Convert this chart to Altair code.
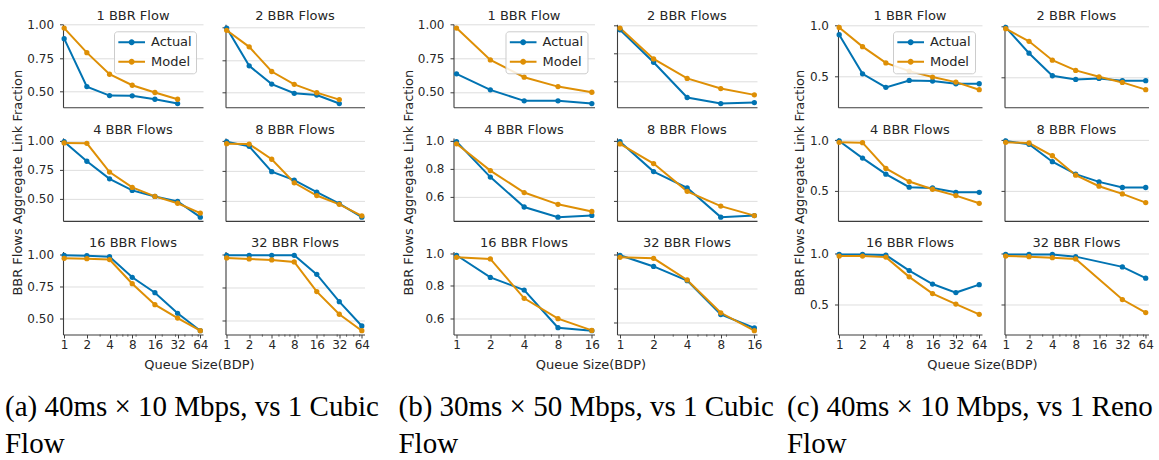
import altair as alt
import pandas as pd

# ---------------- data ----------------
QUEUE_A = [1, 2, 4, 8, 16, 32, 64]
QUEUE_B = [1, 2, 4, 8, 16]
MINOR_A = [3, 5, 6, 7, 9, 20, 30, 40, 50, 60]
MINOR_B = [3, 5, 6, 7, 9]
PANEL_TITLES = ["1 BBR Flow", "2 BBR Flows", "4 BBR Flows",
                "8 BBR Flows", "16 BBR Flows", "32 BBR Flows"]
SERIES = ["Actual", "Model"]
CAPTIONS = [
    ["(a) 40ms \u00d7 10 Mbps, vs 1 Cubic", "Flow"],
    ["(b) 30ms \u00d7 50 Mbps, vs 1 Cubic", "Flow"],
    ["(c) 40ms \u00d7 10 Mbps, vs 1 Reno", "Flow"],
]
Y_TITLE = "BBR Flows Aggregate Link Fraction"
X_TITLE = "Queue Size(BDP)"

A_ACTUAL = [
    [0.894, 0.537, 0.470, 0.468, 0.443, 0.411],
    [0.992, 0.704, 0.565, 0.495, 0.482, 0.417],
    [0.991, 0.822, 0.670, 0.570, 0.518, 0.474, 0.339],
    [0.992, 0.953, 0.743, 0.673, 0.573, 0.478, 0.366],
    [0.995, 0.992, 0.984, 0.821, 0.700, 0.537, 0.400],
    [0.997, 0.997, 0.997, 0.997, 0.851, 0.642, 0.456],
]
A_MODEL = [
    [0.973, 0.790, 0.629, 0.547, 0.493, 0.443],
    [0.975, 0.849, 0.661, 0.563, 0.500, 0.447],
    [0.980, 0.977, 0.728, 0.596, 0.518, 0.459, 0.374],
    [0.975, 0.972, 0.846, 0.651, 0.545, 0.472, 0.377],
    [0.971, 0.968, 0.961, 0.771, 0.605, 0.500, 0.400],
    [0.977, 0.969, 0.961, 0.946, 0.719, 0.546, 0.420],
]
B_ACTUAL = [
    [0.634, 0.515, 0.433, 0.433, 0.413],
    [0.969, 0.736, 0.484, 0.441, 0.448],
    [0.993, 0.741, 0.528, 0.456, 0.468],
    [0.993, 0.795, 0.687, 0.493, 0.503],
    [0.991, 0.853, 0.774, 0.540, 0.521],
    [0.996, 0.930, 0.846, 0.646, 0.566],
]
B_MODEL = [
    [0.975, 0.738, 0.609, 0.539, 0.497],
    [0.981, 0.760, 0.621, 0.548, 0.503],
    [0.978, 0.787, 0.631, 0.547, 0.496],
    [0.978, 0.848, 0.664, 0.566, 0.503],
    [0.978, 0.968, 0.723, 0.596, 0.523],
    [0.984, 0.978, 0.850, 0.656, 0.550],
]
C_ACTUAL = [
    [0.906, 0.526, 0.394, 0.461, 0.455, 0.429, 0.429],
    [0.993, 0.737, 0.513, 0.477, 0.487, 0.464, 0.464],
    [0.990, 0.821, 0.662, 0.533, 0.526, 0.483, 0.483],
    [0.990, 0.957, 0.785, 0.662, 0.586, 0.530, 0.530],
    [0.990, 0.990, 0.984, 0.831, 0.698, 0.614, 0.692],
    [0.990, 0.990, 0.990, 0.968, None, 0.867, 0.756],
]
C_MODEL = [
    [0.977, 0.790, 0.632, 0.552, 0.494, 0.445, 0.371],
    [0.980, 0.855, 0.668, 0.566, 0.503, 0.447, 0.375],
    [0.977, 0.974, 0.719, 0.589, 0.513, 0.450, 0.374],
    [0.977, 0.970, 0.844, 0.652, 0.543, 0.467, 0.381],
    [0.974, 0.974, 0.964, 0.769, 0.604, 0.500, 0.399],
    [0.974, 0.968, 0.958, 0.945, None, 0.545, 0.416],
]
TICKS_QUARTER = [0.5, 0.75, 1.0]
TICKS_FIFTH = [0.6, 0.8, 1.0]
TICKS_HALF = [0.5, 1.0]

# ---------------- styling ----------------
BLUE = "#0173B2"
ORANGE = "#DE8F05"
FONT = "DejaVu Sans"
TEXT = "#262626"
SPINE = "#3d3d3d"
GRID = "#dadada"
H = 83
ROW_GAP = 30.6
COL_GAP = 22.5
LEGEND_PATH = ("M-1,-0.15L3,-0.15L3,0.15L-1,0.15Z"
               "M1.45,0A0.45,0.45,0,1,1,0.55,0A0.45,0.45,0,1,1,1.45,0Z")

GROUPS = [
    dict(queue=QUEUE_A, minor=MINOR_A, actual=A_ACTUAL, model=A_MODEL,
         ticks=[TICKS_QUARTER] * 6, fmt=[".2f"] * 6, xdomain=[0.965, 69.5],
         lo=None, widths=(140, 139), xtitle_x=136, ytitle_x=-46, cap_dx=-58),
    dict(queue=QUEUE_B, minor=MINOR_B, actual=B_ACTUAL, model=B_MODEL,
         ticks=[TICKS_QUARTER] + [TICKS_FIFTH] * 5,
         fmt=[".2f"] + [".1f"] * 5, xdomain=[0.94, 16.9],
         lo=None, widths=(141, 140), xtitle_x=137, ytitle_x=-45, cap_dx=-55),
    dict(queue=QUEUE_A, minor=MINOR_A, actual=C_ACTUAL, model=C_MODEL,
         ticks=[TICKS_HALF] * 6, fmt=[".1f"] * 6, xdomain=[0.965, 69.5],
         lo=0.2, widths=(144, 144), xtitle_x=144, ytitle_x=-38, cap_dx=-51),
]
SPACERS = [43.5, 36]

BLANK = pd.DataFrame({"k": [0]})


def blank(w, h):
    return alt.Chart(BLANK).mark_point(opacity=0).encode(
        x=alt.value(0), y=alt.value(0)).properties(width=w, height=h)


def panel(g, i):
    row, col = divmod(i, 2)
    width = g["widths"][col]
    recs = []
    vals_all = []
    for name, vals in (("Actual", g["actual"][i]), ("Model", g["model"][i])):
        for q, v in zip(g["queue"], vals):
            if v is not None:
                recs.append({"queue": q, "series": name, "value": v})
                vals_all.append(v)
    df = pd.DataFrame(recs)
    lo, hi = min(vals_all), max(vals_all)
    r = hi - lo
    ydom = [g["lo"] if g["lo"] is not None else lo - 0.05 * r, hi + 0.05 * r]

    bottom = row == 2
    left = col == 0

    if bottom:
        xaxis_kw = dict(values=g["queue"], format="d", labels=True, ticks=True,
                        tickSize=3.5, labelPadding=2, grid=False, domain=True,
                        labelFontSize=12, labelFont=FONT, labelColor=TEXT)
        if left:
            xaxis_kw.update(titleX=g["xtitle_x"], titleY=34.2,
                            titleBaseline="alphabetic", titleAlign="center")
    else:
        xaxis_kw = dict(labels=False, ticks=False, grid=False, domain=True)
    x_title = X_TITLE if (bottom and left) else None
    x_enc = alt.X("queue:Q", title=x_title, axis=alt.Axis(**xaxis_kw),
                  scale=alt.Scale(type="log", base=2, domain=g["xdomain"],
                                  nice=False))

    yaxis_kw = dict(values=g["ticks"][i], format=g["fmt"][i], labels=left,
                    ticks=True, tickSize=3.5, labelPadding=6, grid=True,
                    domain=True)
    if left and row == 1:
        yaxis_kw.update(titleX=g["ytitle_x"], titleY=44.3, titleAngle=270,
                        titleAlign="center", titleBaseline="middle")
    y_title = Y_TITLE if (left and row == 1) else None
    y_enc = alt.Y("value:Q", title=y_title, axis=alt.Axis(**yaxis_kw),
                  scale=alt.Scale(domain=ydom, nice=False, zero=False))

    if i == 0:
        legend = alt.Legend(title=None, orient="top-right", offset=7,
                            symbolType=LEGEND_PATH, symbolSize=178,
                            symbolStrokeWidth=0, labelOffset=19,
                            labelFontSize=13, labelFont=FONT, labelColor=TEXT,
                            padding=4, rowPadding=5.5, strokeColor="#cccccc",
                            fillColor="rgba(255,255,255,0.85)", cornerRadius=3)
    else:
        legend = None
    c_enc = alt.Color("series:N", legend=legend,
                      scale=alt.Scale(domain=SERIES, range=[BLUE, ORANGE]))

    base = alt.Chart(df)
    lines = base.mark_line(strokeWidth=2).encode(x=x_enc, y=y_enc, color=c_enc)
    pts = base.mark_point(filled=True, size=28, opacity=1).encode(
        x=x_enc, y=y_enc, color=c_enc)
    layers = [lines, pts]
    if bottom:
        mdf = pd.DataFrame({"queue": [m for m in g["minor"]]})
        minor = alt.Chart(mdf).mark_rule(color=SPINE, strokeWidth=0.8).encode(
            x=x_enc, y=alt.value(H), y2=alt.value(H + 2.2))
        layers.append(minor)
    title = alt.Chart(BLANK).mark_text(
        align="center", baseline="alphabetic", font=FONT, fontSize=13,
        color=TEXT).encode(x=alt.value(width / 2), y=alt.value(-4),
                           text=alt.value(PANEL_TITLES[i]))
    layers.append(title)
    return alt.layer(*layers).properties(width=width, height=H)


def caption(g, lines, width):
    return alt.Chart(BLANK).mark_text(
        align="left", baseline="alphabetic", font="Liberation Serif",
        fontSize=29, lineHeight=36.6, color="black").encode(
        x=alt.value(g["cap_dx"]), y=alt.value(51.3),
        text=alt.value(lines)).properties(width=width, height=10)


cells = []
for row in range(3):
    for gi, g in enumerate(GROUPS):
        cells.append(panel(g, 2 * row))
        cells.append(panel(g, 2 * row + 1))
        if gi < 2:
            cells.append(blank(SPACERS[gi], H))
for gi, g in enumerate(GROUPS):
    cells.append(caption(g, CAPTIONS[gi], g["widths"][0]))
    cells.append(blank(g["widths"][1], 10))
    if gi < 2:
        cells.append(blank(SPACERS[gi], 10))

chart = alt.concat(
    *cells, columns=8, spacing={"row": ROW_GAP, "column": COL_GAP},
    bounds="flush"
).resolve_scale(
    x="independent", y="independent", color="independent"
).resolve_legend(
    color="independent"
).properties(
    padding={"left": 5, "top": 10.3, "right": 0, "bottom": 0}
).configure_view(
    strokeWidth=0
).configure_axis(
    labelFont=FONT, titleFont=FONT, labelFontSize=12, titleFontSize=13,
    labelColor=TEXT, titleColor=TEXT, tickColor=SPINE, domainColor=SPINE,
    gridColor=GRID, gridWidth=0.9, titleFontWeight="normal", domainWidth=1.1,
    tickWidth=1
)

chart.save("out.html", embed_options={"renderer": "svg", "actions": False})
